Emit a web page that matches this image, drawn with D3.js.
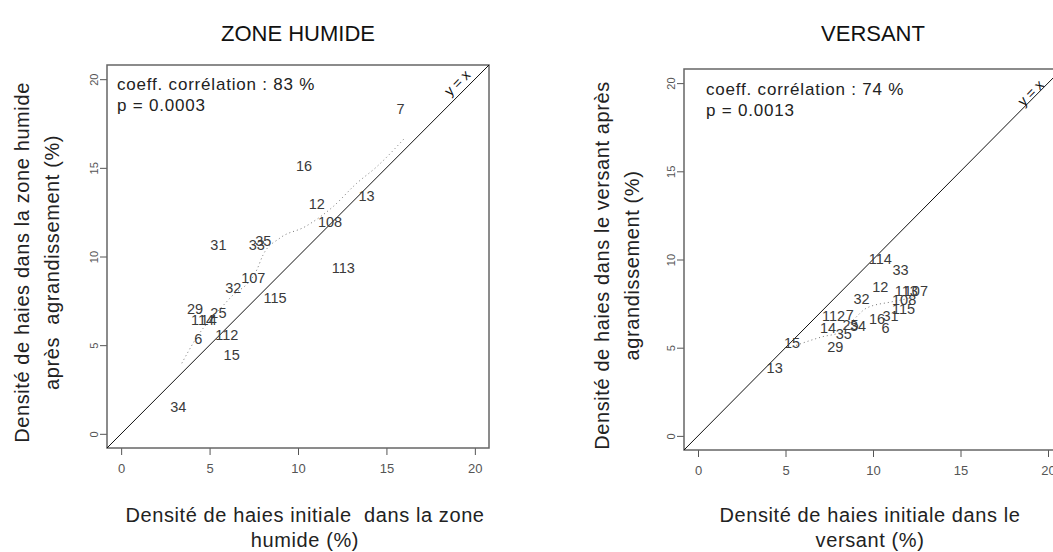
<!DOCTYPE html>
<html>
<head>
<meta charset="utf-8">
<script src="https://cdn.jsdelivr.net/npm/d3@7"></script>
<style>
  body { margin: 0; background: #fff; }
  text { font-family: "Liberation Sans", Arial, sans-serif; white-space: pre; }
</style>
</head>
<body>
<svg id="chart" width="1053" height="552"></svg>
<script>
// Hedge density (%) per site: initial vs after enlargement
const tickValues = [0, 5, 10, 15, 20];

// Zone humide
const humideSites   = ["7", "16", "12", "13", "108", "31", "33", "35", "113", "107", "32", "115", "29", "25", "114", "14", "6", "112", "15", "34"];
const humideInitial = [15.8, 10.34, 11.06, 13.88, 11.81, 5.5, 7.67, 8.04, 12.56, 7.47, 6.34, 8.70, 4.18, 5.5, 4.6, 4.95, 4.36, 5.97, 6.25, 3.23];
const humideApres   = [18.3, 15.1, 12.96, 13.43, 11.96, 10.65, 10.65, 10.89, 9.33, 8.77, 8.21, 7.64, 7.03, 6.8, 6.42, 6.42, 5.33, 5.57, 4.44, 1.53];
const humideLowessX = [3.43, 4.18, 6.16, 7.67, 8.02, 8.98, 10.40, 11.98, 13.32, 14.45, 15.99];
const humideLowessY = [3.98, 5.29, 7.66, 9.24, 10.08, 11.04, 11.68, 12.81, 14.13, 15.06, 16.63];

// Versant
const versantSites   = ["13", "15", "29", "35", "14", "112", "7", "25", "34", "32", "114", "33", "12", "113", "107", "108", "16", "31", "115", "6"];
const versantInitial = [4.38, 5.37, 7.85, 8.33, 7.43, 7.75, 8.67, 8.72, 9.14, 9.34, 10.42, 11.57, 10.42, 11.9, 12.45, 11.78, 10.23, 11.0, 11.75, 10.71];
const versantApres   = [3.83, 5.28, 5.02, 5.78, 6.10, 6.81, 6.85, 6.29, 6.23, 7.76, 10.01, 9.40, 8.46, 8.19, 8.19, 7.70, 6.61, 6.81, 7.18, 6.10];
const versantLowessX = [5.4, 6.0, 7.07, 8.2, 8.9, 9.64, 11.07, 12.4];
const versantLowessY = [5.05, 5.27, 5.61, 5.9, 6.6, 7.25, 7.6, 7.85];

const panels = [
  {
    title: "ZONE HUMIDE",
    sites: humideSites, xs: humideInitial, ys: humideApres,
    lx: humideLowessX, ly: humideLowessY,
    stats: ["coeff. corrélation : 83 %", "p = 0.0003"],
    xLabel: ["Densité de haies initiale  dans la zone", "humide (%)"],
    yLabel: ["Densité de haies dans la zone humide", "après  agrandissement (%)"],
    box: { left: 107, right: 489, top: 65, bottom: 448 },
    statsDx: 10, statsY: 90,
    idLabelPos: [19.0, 19.8],
    xLabelCx: 305, yLabelX: [22, 52]
  },
  {
    title: "VERSANT",
    sites: versantSites, xs: versantInitial, ys: versantApres,
    lx: versantLowessX, ly: versantLowessY,
    stats: ["coeff. corrélation : 74 %", "p = 0.0013"],
    xLabel: ["Densité de haies initiale dans le", "versant (%)"],
    yLabel: ["Densité de haies dans le versant après", "agrandissement (%)"],
    box: { left: 684, right: 1062, top: 69, bottom: 450 },
    statsDx: 22, statsY: 95,
    idLabelPos: [19.0, 19.45],
    xLabelCx: 870, yLabelX: [602, 632]
  }
];

const svg = d3.select("#chart");
const domain = [-0.8, 20.8];

panels.forEach((p, i) => {
  const b = p.box;
  const x = d3.scaleLinear().domain(domain).range([b.left, b.right]);
  const y = d3.scaleLinear().domain(domain).range([b.bottom, b.top]);
  const g = svg.append("g");
  const cx = (b.left + b.right) / 2;
  const cy = (b.top + b.bottom) / 2;

  // clip for marks inside the frame
  const clipId = "clip" + i;
  svg.append("clipPath").attr("id", clipId).append("rect")
    .attr("x", b.left).attr("y", b.top)
    .attr("width", b.right - b.left).attr("height", b.bottom - b.top);

  // title
  g.append("text").attr("x", cx).attr("y", 41)
    .attr("text-anchor", "middle").attr("font-size", 22).attr("fill", "#111")
    .text(p.title);

  // x axis
  const xAxis = g.append("g").attr("transform", `translate(0,${b.bottom})`)
    .call(d3.axisBottom(x).tickValues(tickValues).tickSize(7).tickPadding(9).tickFormat(d3.format("d")));
  xAxis.select(".domain").remove();
  xAxis.selectAll("line").attr("stroke", "#555");
  xAxis.selectAll("text").attr("font-size", 13).attr("fill", "#555")
    .attr("font-family", '"Liberation Sans", Arial, sans-serif');

  // y axis (labels parallel to the axis)
  const yAxis = g.append("g").attr("transform", `translate(${b.left},0)`)
    .call(d3.axisLeft(y).tickValues(tickValues).tickSize(7).tickFormat(d3.format("d")));
  yAxis.select(".domain").remove();
  yAxis.selectAll("line").attr("stroke", "#555");
  yAxis.selectAll("text")
    .attr("x", null).attr("dy", null)
    .attr("text-anchor", "middle")
    .attr("transform", "translate(-13,0) rotate(-90)")
    .attr("dominant-baseline", "central")
    .attr("font-size", 11).attr("fill", "#555")
    .attr("font-family", '"Liberation Sans", Arial, sans-serif');

  // frame
  g.append("rect").attr("x", b.left).attr("y", b.top)
    .attr("width", b.right - b.left).attr("height", b.bottom - b.top)
    .attr("fill", "none").attr("stroke", "#666").attr("stroke-width", 1.5);

  const inner = g.append("g").attr("clip-path", `url(#${clipId})`);

  // y = x reference line
  inner.append("line")
    .attr("x1", x(domain[0])).attr("y1", y(domain[0]))
    .attr("x2", x(domain[1])).attr("y2", y(domain[1]))
    .attr("stroke", "#111").attr("stroke-width", 1);

  inner.append("text")
    .attr("transform", `translate(${x(p.idLabelPos[0])},${y(p.idLabelPos[1])}) rotate(-45)`)
    .attr("text-anchor", "middle").attr("dominant-baseline", "central")
    .attr("font-size", 14).attr("fill", "#111")
    .text("y = x");

  // lowess smoother
  const lw = d3.line().x(d => x(d[0])).y(d => y(d[1])).curve(d3.curveMonotoneX);
  inner.append("path")
    .datum(d3.zip(p.lx, p.ly))
    .attr("d", lw)
    .attr("fill", "none").attr("stroke", "#777").attr("stroke-width", 1)
    .attr("stroke-dasharray", "1,3");

  // site labels
  inner.selectAll("text.site")
    .data(p.sites.map((s, k) => ({ s, vx: p.xs[k], vy: p.ys[k] })))
    .join("text").attr("class", "site")
    .attr("x", d => x(d.vx)).attr("y", d => y(d.vy))
    .attr("text-anchor", "middle").attr("dominant-baseline", "central")
    .attr("font-size", 14.5).attr("fill", "#3a3a3a")
    .text(d => d.s);

  // stats text
  p.stats.forEach((t, k) => {
    g.append("text").attr("x", b.left + p.statsDx).attr("y", p.statsY + k * 21)
      .attr("font-size", 17).attr("letter-spacing", 0.8).attr("fill", "#222")
      .text(t);
  });

  // x axis title
  p.xLabel.forEach((t, k) => {
    g.append("text").attr("x", p.xLabelCx).attr("y", 522 + k * 25)
      .attr("text-anchor", "middle").attr("font-size", 20).attr("letter-spacing", 0.6)
      .attr("fill", "#222").text(t);
  });

  // y axis title
  p.yLabel.forEach((t, k) => {
    g.append("text")
      .attr("transform", `translate(${p.yLabelX[k]},${cy + 6}) rotate(-90)`)
      .attr("text-anchor", "middle").attr("dominant-baseline", "central")
      .attr("font-size", 20).attr("letter-spacing", 0.6)
      .attr("fill", "#222").text(t);
  });
});
</script>
</body>
</html>
